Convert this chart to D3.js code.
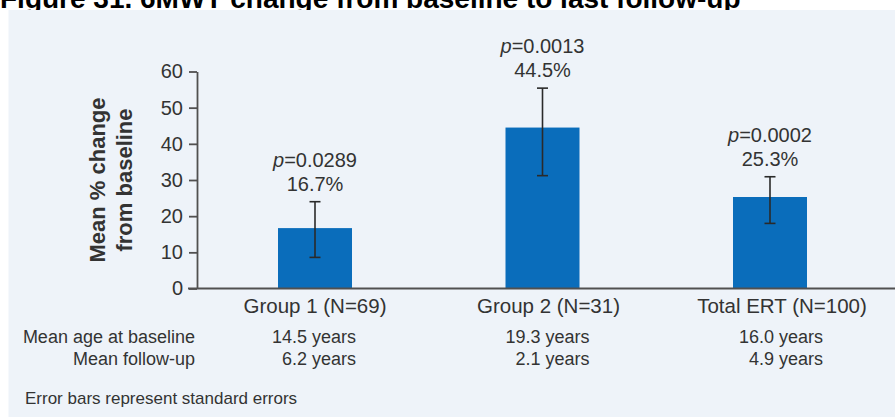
<!DOCTYPE html>
<html>
<head>
<meta charset="utf-8">
<script src="https://cdn.jsdelivr.net/npm/d3@7"></script>
<style>
  html, body { margin: 0; padding: 0; background: #ffffff; }
  svg { display: block; }
  text { font-family: "Liberation Sans", Arial, Helvetica, sans-serif; }
</style>
</head>
<body>
<script>
// Mean % change in 6MWT from baseline to last follow-up, by group
const categories = ["Group 1 (N=69)", "Group 2 (N=31)", "Total ERT (N=100)"];
const meanChange = [16.7, 44.5, 25.3];
const errLow = [8.6, 31.2, 18.0];     // lower end of standard-error bar
const errHigh = [24.0, 55.4, 30.9];   // upper end of standard-error bar
const pValues = ["0.0289", "0.0013", "0.0002"];
const meanAge = ["14.5 years", "19.3 years", "16.0 years"];
const meanFollowUp = ["6.2 years", "2.1 years", "4.9 years"];
const yTicks = [0, 10, 20, 30, 40, 50, 60];

const W = 895, H = 417;
const textColor = "#333333";
const axisColor = "#505050";
const barColor = "#0a6dbb";

const svg = d3.select("body").append("svg")
  .attr("width", W).attr("height", H);

// Figure title (runs off the top edge of the figure)
svg.append("text")
  .attr("x", 0).attr("y", 8)
  .attr("font-size", 28).attr("font-weight", "bold")
  .attr("fill", "#000")
  .text("Figure 31. 6MWT change from baseline to last follow-up");

// Panel background
svg.append("rect")
  .attr("x", 8.5).attr("y", 10).attr("width", W - 8.5).attr("height", H - 10)
  .attr("fill", "#eef3f9");

const axisX = 197;
const y = d3.scaleLinear().domain([0, 60]).range([288.5, 71.5]);
const xBar = d3.scalePoint().domain(categories).range([315, 770]);
const xCol = d3.scalePoint().domain(categories).range([315, 782]);
const barWidth = 74;

// Bars
const g = svg.append("g");
g.selectAll("rect.bar").data(categories).join("rect")
  .attr("class", "bar")
  .attr("x", (d) => xBar(d) - barWidth / 2)
  .attr("width", barWidth)
  .attr("y", (d, i) => y(meanChange[i]))
  .attr("height", (d, i) => y(0) - y(meanChange[i]))
  .attr("fill", barColor);

// Error bars
const capW = 11;
const eb = g.selectAll("g.err").data(categories).join("g").attr("class", "err")
  .attr("stroke", "#2a2a2a").attr("stroke-width", 1.6);
eb.append("line")
  .attr("x1", (d) => xBar(d)).attr("x2", (d) => xBar(d))
  .attr("y1", (d, i) => y(errLow[i])).attr("y2", (d, i) => y(errHigh[i]));
eb.append("line")
  .attr("x1", (d) => xBar(d) - capW / 2).attr("x2", (d) => xBar(d) + capW / 2)
  .attr("y1", (d, i) => y(errHigh[i])).attr("y2", (d, i) => y(errHigh[i]));
eb.append("line")
  .attr("x1", (d) => xBar(d) - capW / 2).attr("x2", (d) => xBar(d) + capW / 2)
  .attr("y1", (d, i) => y(errLow[i])).attr("y2", (d, i) => y(errLow[i]));

// p-value and mean change labels above each error bar
const lab = g.selectAll("g.lab").data(categories).join("g").attr("class", "lab")
  .attr("font-size", 20).attr("fill", textColor).attr("text-anchor", "middle");
lab.append("text")
  .attr("x", (d) => xBar(d))
  .attr("y", (d, i) => y(errHigh[i]) - 35)
  .each(function (d, i) {
    const t = d3.select(this);
    t.append("tspan").attr("font-style", "italic").text("p");
    t.append("tspan").text("=" + pValues[i]);
  });
lab.append("text")
  .attr("x", (d) => xBar(d))
  .attr("y", (d, i) => y(errHigh[i]) - 11)
  .text((d, i) => meanChange[i].toFixed(1) + "%");

// Y axis
const yAxis = d3.axisLeft(y).tickValues(yTicks).tickSize(8).tickSizeOuter(0).tickPadding(6);
const ya = svg.append("g").attr("transform", `translate(${axisX},0)`).call(yAxis);
ya.select(".domain").attr("stroke", axisColor).attr("stroke-width", 1.8);
ya.selectAll(".tick line").attr("stroke", axisColor).attr("stroke-width", 1.8);
ya.selectAll(".tick text")
  .attr("font-size", 20).attr("fill", textColor)
  .attr("font-family", "'Liberation Sans', Arial, sans-serif");

// X baseline
svg.append("line")
  .attr("x1", axisX - 9).attr("x2", W)
  .attr("y1", y(0)).attr("y2", y(0))
  .attr("stroke", axisColor).attr("stroke-width", 1.8);

// Y axis title
const yt = svg.append("text")
  .attr("transform", `translate(0,${(y(0) + y(60)) / 2}) rotate(-90)`)
  .attr("text-anchor", "middle").attr("font-size", 22).attr("font-weight", "bold")
  .attr("fill", textColor);
yt.append("tspan").attr("x", 0).attr("y", 105).text("Mean % change");
yt.append("tspan").attr("x", 0).attr("y", 132).text("from baseline");

// Category labels
svg.selectAll("text.cat").data(categories).join("text")
  .attr("class", "cat")
  .attr("x", (d) => xCol(d)).attr("y", 313)
  .attr("text-anchor", "middle").attr("font-size", 20.5).attr("fill", textColor)
  .text((d) => d);

// Table of mean age and follow-up
const rowLabels = ["Mean age at baseline", "Mean follow-up"];
const rowY = [343, 365];
const rows = [meanAge, meanFollowUp];
rows.forEach((vals, r) => {
  svg.append("text")
    .attr("x", 195).attr("y", rowY[r])
    .attr("text-anchor", "end").attr("font-size", 18).attr("fill", textColor)
    .text(rowLabels[r]);
  svg.selectAll(null).data(categories).join("text")
    .attr("x", (d) => xCol(d) + 41).attr("y", rowY[r])
    .attr("text-anchor", "end").attr("font-size", 18).attr("fill", textColor)
    .text((d, i) => vals[i]);
});

// Footnote
svg.append("text")
  .attr("x", 25).attr("y", 404)
  .attr("font-size", 17).attr("fill", textColor)
  .text("Error bars represent standard errors");
</script>
</body>
</html>
